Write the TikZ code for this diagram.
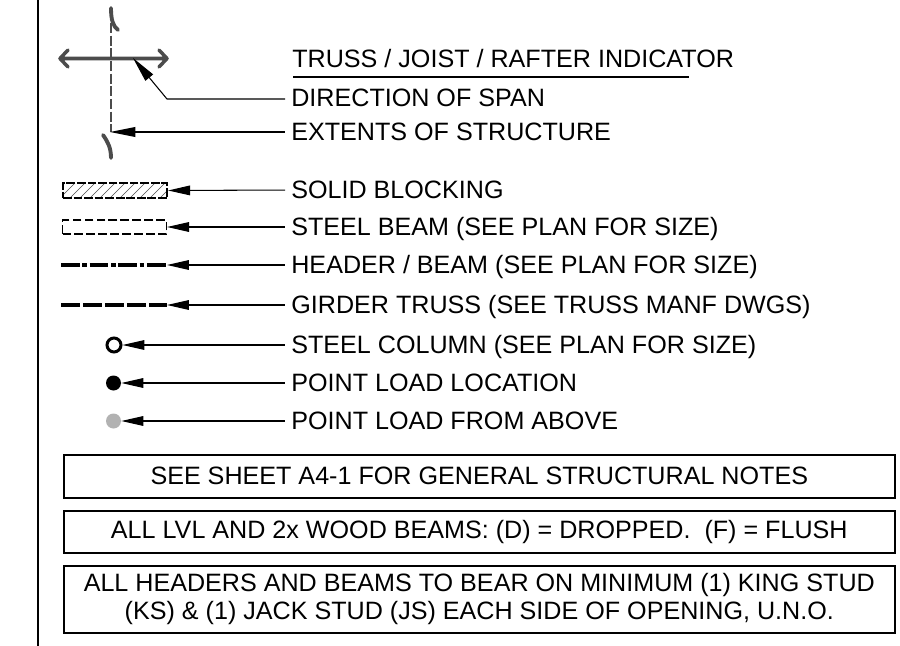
\documentclass[tikz,border=0pt]{standalone}
\usepackage{fontspec}
\setmainfont{Liberation Sans}
\usetikzlibrary{arrows.meta}
\tikzset{
  legendtext/.style={anchor=west, inner sep=0pt, text height=10.2pt, text depth=0pt, font=\fontsize{14.3pt}{16pt}\selectfont},
  leader/.style={line width=0.6pt, shorten >=3.4pt, {Triangle[length=12.5pt,width=5.5pt]}-},
  longleader/.style={line width=0.6pt, shorten >=3.4pt, {Triangle[length=14.5pt,width=5.6pt]}-},
  notebox/.style={draw, line width=0.9pt, minimum width=831*0.02cm, align=center, inner sep=0pt, font=\fontsize{14.3pt}{15.9pt}\selectfont, anchor=north west},
  symline/.style={line width=2.3pt, color=black},
  trussline/.style={color=black!70, line cap=round, line join=round}
}
\begin{document}
\begin{tikzpicture}[x=0.02cm, y=-0.02cm]
  \useasboundingbox (0,0) rectangle (900,646);
  \draw[line width=0.7pt] (38,0) -- (38,646); % sheet edge

  % labels
  \node[legendtext] (truss) at (292,59) {TRUSS / JOIST / RAFTER INDICATOR};
  \node[legendtext] (span) at (291,98) {DIRECTION OF SPAN};
  \node[legendtext] (extents) at (291,132) {EXTENTS OF STRUCTURE};
  \node[legendtext] (solid) at (291,190) {SOLID BLOCKING};
  \node[legendtext] (steel) at (291,227) {STEEL BEAM (SEE PLAN FOR SIZE)};
  \node[legendtext] (header) at (291,265) {HEADER / BEAM (SEE PLAN FOR SIZE)};
  \node[legendtext] (girder) at (291,305) {GIRDER TRUSS (SEE TRUSS MANF DWGS)};
  \node[legendtext] (column) at (291,345) {STEEL COLUMN (SEE PLAN FOR SIZE)};
  \node[legendtext] (load) at (291,383) {POINT LOAD LOCATION};
  \node[legendtext] (above) at (291,421) {POINT LOAD FROM ABOVE};
  \coordinate (rulel) at (293,77);
  \coordinate (ruler) at (689,77);
  \draw[line width=0.9pt] (rulel) -- (ruler);

  % truss symbol
  \draw[trussline, line width=2pt] (60,58.5) -- (167,58.5)
    (68,50) -- (60,58.5) -- (68,67) (159,50) -- (167,58.5) -- (159,67);
  \draw[color=black!70, line width=1.3pt, dash pattern=on 5.7pt off 1.5pt] (111,23) -- (111,132);
  \draw[trussline, line width=2.2pt] (111,8) .. controls (111,20) and (113,26) .. (118,30);
  \draw[trussline, line width=2.2pt] (103,135) .. controls (108,142) and (111,148) .. (111,158);

  % leaders
  \coordinate (spantip) at (133,58);
  \coordinate (spanbend) at (167,99);
  \coordinate (extenttip) at (110,132);
  \draw[longleader] (spantip) -- (spanbend) -- (span.west |- spanbend);
  \draw[longleader] (extenttip) -- (extents.west);

  % symbols
  \begin{scope}
    \clip (62,183) rectangle (166,198);
    \foreach \hx in {50,60,...,170}
      \draw[line width=0.3pt, color=black!70] (\hx,198) -- (\hx+15,183);
  \end{scope}
  \node[draw, line width=1.2pt, dash pattern=on 5pt off 1pt, minimum width=104*0.02cm, minimum height=15*0.02cm, inner sep=0pt, anchor=west] (blocking) at (62,190.5) {};
  \node[draw, line width=0.6pt, dash pattern=on 5pt off 1.8pt, minimum width=104*0.02cm, minimum height=14*0.02cm, inner sep=0pt, anchor=west] (beam) at (62,227) {};
  \coordinate (headerl) at (61,265);
  \coordinate (headerr) at (167,265);
  \draw[symline, dash pattern=on 10.6pt off 1.6pt on 2.6pt off 1.5pt] (headerl) -- (headerr);
  \coordinate (girderl) at (61,305);
  \coordinate (girderr) at (167,305);
  \draw[symline, dash pattern=on 10.6pt off 1.9pt] (girderl) -- (girderr);
  \node[circle, draw, line width=1.7pt, minimum size=14*0.02cm, inner sep=0pt] (col) at (114,345) {};
  \node[circle, fill, minimum size=15*0.02cm, inner sep=0pt] (ptload) at (113.5,383) {};
  \node[circle, fill=black!30, minimum size=15*0.02cm, inner sep=0pt] (ptabove) at (113.5,421) {};

  \draw[leader] (blocking.east) -- (solid.west);
  \draw[leader] (beam.east) -- (steel.west);
  \draw[leader] (headerr) -- (header.west);
  \draw[leader] (girderr) -- (girder.west);
  \draw[leader] (col.east) -- (column.west);
  \draw[leader] (ptload.east) -- (load.west);
  \draw[leader] (ptabove.east) -- (above.west);

  % notes
  \node[notebox, minimum height=43*0.02cm] (note1) at (63,454) {SEE SHEET A4-1 FOR GENERAL STRUCTURAL NOTES};
  \node[notebox, minimum height=42*0.02cm] (note2) at (63,510) {ALL LVL AND 2x WOOD BEAMS: (D) = DROPPED.\ \ (F) = FLUSH};
  \node[notebox, minimum height=67*0.02cm] (note3) at (63,565) {ALL HEADERS AND BEAMS TO BEAR ON MINIMUM (1) KING STUD\\(KS) \& (1) JACK STUD (JS) EACH SIDE OF OPENING, U.N.O.};
\end{tikzpicture}
\end{document}
